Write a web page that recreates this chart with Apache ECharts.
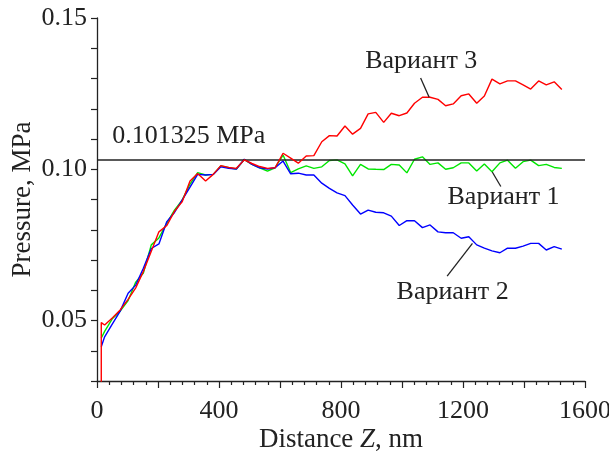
<!DOCTYPE html>
<html>
<head>
<meta charset="utf-8">
<script src="https://cdn.jsdelivr.net/npm/echarts@6/dist/echarts.min.js"></script>
<style>
html,body{margin:0;padding:0;background:#fff;}
#chart{width:609px;height:459px;}
</style>
</head>
<body>
<div id="chart"></div>
<script>
// Distance Z, nm (first entry repeated: red trace starts with a vertical jump)
const distance = [14, 14, 25, 51, 76, 102, 127, 152, 178, 203, 229, 254, 279, 305, 330, 356, 381, 406, 432, 457, 483, 508, 533, 559, 584, 610, 635, 660, 686, 711, 737, 762, 787, 813, 838, 864, 889, 914, 940, 965, 991, 1016, 1041, 1067, 1092, 1118, 1143, 1168, 1194, 1219, 1245, 1270, 1295, 1321, 1346, 1372, 1397, 1422, 1448, 1473, 1499, 1524];

// Pressure, MPa
const variant1 = [null, 0.0442, 0.0464, 0.0507, 0.0531, 0.0566, 0.0627, 0.0657, 0.0750, 0.0773, 0.0822, 0.0865, 0.0898, 0.0951, 0.0989, 0.0981, 0.0983, 0.1011, 0.1005, 0.1001, 0.1032, 0.1016, 0.1005, 0.0994, 0.1005, 0.1047, 0.0989, 0.1001, 0.1011, 0.1003, 0.1008, 0.1029, 0.1031, 0.1018, 0.0978, 0.1016, 0.1001, 0.1000, 0.0999, 0.1016, 0.1014, 0.0988, 0.1033, 0.1041, 0.1016, 0.1021, 0.1000, 0.1005, 0.1021, 0.1021, 0.0994, 0.1017, 0.0992, 0.1021, 0.1030, 0.1003, 0.1025, 0.1030, 0.1012, 0.1016, 0.1006, 0.1003];

const variant2 = [null, 0.0413, 0.0446, 0.0490, 0.0531, 0.0590, 0.0617, 0.0673, 0.0738, 0.0753, 0.0827, 0.0857, 0.0898, 0.0941, 0.0983, 0.0981, 0.0983, 0.1008, 0.1003, 0.1001, 0.1033, 0.1016, 0.1005, 0.1001, 0.1005, 0.1027, 0.0985, 0.0987, 0.0981, 0.0981, 0.0954, 0.0937, 0.0922, 0.0913, 0.0882, 0.0852, 0.0865, 0.0858, 0.0856, 0.0845, 0.0814, 0.0830, 0.0830, 0.0807, 0.0816, 0.0793, 0.0790, 0.0790, 0.0772, 0.0777, 0.0750, 0.0739, 0.0730, 0.0724, 0.0739, 0.0739, 0.0746, 0.0755, 0.0755, 0.0733, 0.0744, 0.0736];

const variant3 = [0.02, 0.0493, 0.0485, 0.0509, 0.0535, 0.0570, 0.0608, 0.0662, 0.0729, 0.0793, 0.0814, 0.0861, 0.0892, 0.0961, 0.0986, 0.0961, 0.0983, 0.1012, 0.1006, 0.1003, 0.1031, 0.1019, 0.1009, 0.1003, 0.1005, 0.1053, 0.1037, 0.1020, 0.1044, 0.1045, 0.1091, 0.1111, 0.1110, 0.1143, 0.1116, 0.1135, 0.1183, 0.1188, 0.1155, 0.1185, 0.1177, 0.1186, 0.1218, 0.1238, 0.1238, 0.1231, 0.1210, 0.1216, 0.1243, 0.1249, 0.1218, 0.1242, 0.1298, 0.1282, 0.1292, 0.1292, 0.1279, 0.1265, 0.1292, 0.1279, 0.1289, 0.1264];

const seriesNames = ['Вариант 1', 'Вариант 2', 'Вариант 3'];
const refLevel = 0.1032;          // horizontal reference line as drawn
const refLabel = '0.101325 MPa';

// Annotation anchors in data units: label centre, leader start, leader end
const labelPos = [[1333, 0.0907], [1166, 0.0595], [1063, 0.1356]];
const leaderFrom = [[1296, 0.0991], [1231, 0.0755], [1061, 0.1302]];
const leaderTo = [[1324, 0.0943], [1148, 0.0647], [1089, 0.1238]];
const refLabelPos = [301, 0.1108];

const FONT = "'Liberation Serif', 'Times New Roman', serif";
const INK = '#222';
const colors = ['#00e600', '#0000ff', '#ff0000'];
const FS = 26;

function pairs(arr) {
  const out = [];
  for (let i = 0; i < distance.length; i++) {
    if (arr[i] !== null) out.push([distance[i], arr[i]]);
  }
  return out;
}

const chart = echarts.init(document.getElementById('chart'), null, {renderer: 'canvas'});

const option = {
  animation: false,
  backgroundColor: '#fff',
  grid: {left: 97, right: 24, top: 18, bottom: 78, containLabel: false, outerBoundsMode: 'none'},
  xAxis: {
    type: 'value', min: 0, max: 1600, interval: 200,
    axisLine: {show: true, onZero: false, lineStyle: {color: INK, width: 1.3}},
    axisTick: {show: true, length: 7, lineStyle: {color: INK, width: 1.2}},
    minorTick: {show: true, splitNumber: 5, length: 4, lineStyle: {color: INK, width: 1.2}},
    splitLine: {show: false},
    minorSplitLine: {show: false},
    axisLabel: {
      margin: 17, fontSize: FS, fontFamily: FONT, color: INK, hideOverlap: false,
      formatter: v => (Math.round(v) % 400 === 0 ? String(v) : '')
    },
    name: '{n|Distance }{i|Z}{n|, nm}',
    nameLocation: 'middle', nameGap: 45, nameMoveOverlap: false,
    nameTextStyle: {
      rich: {
        n: {fontSize: 27, fontFamily: FONT, color: INK},
        i: {fontSize: 27, fontFamily: FONT, color: INK, fontStyle: 'italic'}
      }
    }
  },
  yAxis: {
    type: 'value', min: 0.03, max: 0.15, interval: 0.01,
    axisLine: {show: true, lineStyle: {color: INK, width: 1.3}},
    axisTick: {show: true, length: 6, lineStyle: {color: INK, width: 1.2}},
    splitLine: {show: false},
    axisLabel: {
      margin: 10, fontSize: FS, fontFamily: FONT, color: INK,
      formatter: v => (Math.round(v * 100) % 5 === 0 ? v.toFixed(2) : '')
    },
    name: 'Pressure, MPa',
    nameLocation: 'middle', nameGap: 61, nameMoveOverlap: false,
    nameTextStyle: {fontSize: 27, fontFamily: FONT, color: INK}
  },
  series: [variant1, variant2, variant3].map((arr, i) => ({
    name: seriesNames[i],
    type: 'line',
    data: pairs(arr),
    showSymbol: false,
    clip: true,
    lineStyle: {color: colors[i], width: 1.4},
    itemStyle: {color: colors[i]},
    z: 3 + i,
    markLine: i === 0 ? {
      silent: true, symbol: ['none', 'none'],
      precision: 6,
      label: {show: false},
      lineStyle: {color: INK, width: 1.5, type: 'solid'},
      data: [{yAxis: refLevel}]
    } : undefined
  }))
};

chart.setOption(option);

const g = [];
seriesNames.forEach((name, i) => {
  const p = chart.convertToPixel({gridIndex: 0}, labelPos[i]);
  const a = chart.convertToPixel({gridIndex: 0}, leaderFrom[i]);
  const b = chart.convertToPixel({gridIndex: 0}, leaderTo[i]);
  g.push({
    type: 'line', z: 20,
    shape: {x1: a[0], y1: a[1], x2: b[0], y2: b[1]},
    style: {stroke: INK, lineWidth: 1.3}
  });
  g.push({
    type: 'text', z: 20, x: p[0], y: p[1],
    style: {text: name, fontSize: FS, fontFamily: FONT, fill: INK, align: 'center', verticalAlign: 'middle'}
  });
});
const rp = chart.convertToPixel({gridIndex: 0}, refLabelPos);
g.push({
  type: 'text', z: 20, x: rp[0], y: rp[1],
  style: {text: refLabel, fontSize: FS, fontFamily: FONT, fill: INK, align: 'center', verticalAlign: 'middle'}
});
chart.setOption({graphic: g});
</script>
</body>
</html>
